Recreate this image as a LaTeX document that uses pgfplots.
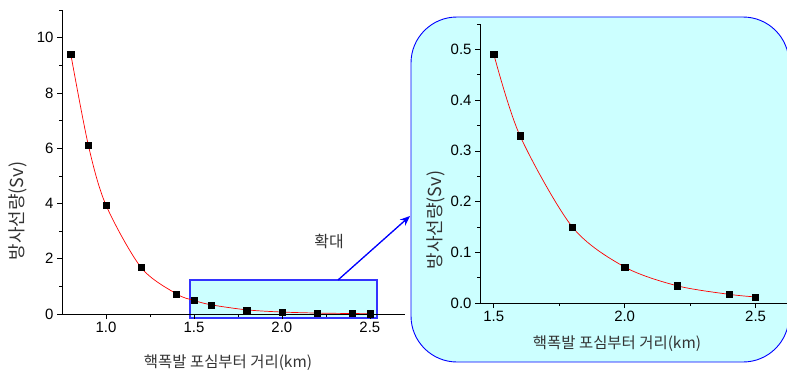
\documentclass[border=0pt]{standalone}
\usepackage{pgfplots}
\pgfplotsset{compat=1.18}
\usepackage{fontspec}
\setmainfont{Liberation Sans}
\newfontfamily\kr{Noto Sans CJK KR}
\usetikzlibrary{arrows.meta}
\definecolor{zoomfill}{HTML}{CCFFFF}
\definecolor{zoomline}{HTML}{3333FF}
\definecolor{labgray}{HTML}{333333}
\pgfplotstableread{
x y
0.8 9.40
0.9 6.10
1.0 3.94
1.2 1.68
1.4 0.73
1.5 0.491
1.6 0.330
1.8 0.150
2.0 0.071
2.2 0.034
2.4 0.017
2.5 0.012
}\fulldata
\pgfplotstableread{
x y
1.5 0.491
1.6 0.330
1.8 0.150
2.0 0.071
2.2 0.034
2.4 0.017
2.5 0.012
}\zoomdata
\begin{document}
\begin{tikzpicture}[x=1bp,y=1bp]
\useasboundingbox (0,0) rectangle (787,373);
\clip (0,0) rectangle (787,373);
\pgfplotsset{
  common/.style={
    scale only axis, clip=false, axis on top,
    axis lines*=left, tick align=outside,
    major tick length=5bp, minor tick length=3bp,
    axis line style={line width=0.6bp},
    tick style={line width=0.6bp, black},
    ticklabel style={font=\fontsize{15}{18}\selectfont},
    /pgf/number format/assume math mode=true,
  }
}
% zoom panel background
\draw[blue, fill=zoomfill, line width=0.9bp, rounded corners=46bp] (411,11) rectangle (789,356);
% left axis
\begin{axis}[common,
  at={(62bp,59bp)}, anchor=south west,
  width=343bp, height=304bp,
  xmin=0.75, xmax=2.7, ymin=0, ymax=11,
  xtick={1,1.5,2,2.5}, minor xtick={1.25,1.75,2.25},
  ytick={0,2,4,6,8,10}, minor ytick={1,3,5,7,9,11},
  x tick label style={/pgf/number format/.cd, fixed, fixed zerofill, precision=1},
]
\draw[zoomline, fill=zoomfill, line width=1.3bp] (axis cs:1.477,-0.14) rectangle (axis cs:2.54,1.23);
\addplot[red, line width=0.7bp, smooth, tension=0.5, no marks] table[x=x,y=y] {\fulldata};
\addplot[only marks, mark=square*, mark size=3.1bp, black] table[x=x,y=y] {\fulldata};
\end{axis}
% right axis
\begin{axis}[common,
  at={(480bp,70bp)}, anchor=south west,
  width=307bp, height=279bp,
  xmin=1.4476, xmax=2.62, ymin=0, ymax=0.55,
  xtick={1.5,2,2.5}, minor xtick={1.75,2.25},
  ytick={0,0.1,0.2,0.3,0.4,0.5}, minor ytick={0.05,0.15,0.25,0.35,0.45,0.55},
  x tick label style={/pgf/number format/.cd, fixed, fixed zerofill, precision=1},
  y tick label style={/pgf/number format/.cd, fixed, fixed zerofill, precision=1},
]
\addplot[red, line width=0.7bp, smooth, tension=0.5, no marks] table[x=x,y=y] {\zoomdata};
\addplot[only marks, mark=square*, mark size=3.1bp, black] table[x=x,y=y] {\zoomdata};
\end{axis}
% arrow and labels
\draw[blue, line width=1.3bp, -{Stealth[length=10bp,width=8bp]}] (338,93) -- (410,157);
\node[font=\kr\fontsize{16}{18}\selectfont, labgray] at (329,132) {확대};
\node[font=\kr\fontsize{15.5}{18}\selectfont, labgray] at (228,10) {핵폭발 포심부터 거리(km)};
\node[font=\kr\fontsize{15.5}{18}\selectfont, labgray] at (617,29) {핵폭발 포심부터 거리(km)};
\node[font=\kr\fontsize{18}{20}\selectfont, labgray, rotate=90] at (18,162) {방사선량(Sv)};
\node[font=\kr\fontsize{18}{20}\selectfont, labgray, rotate=90] at (436,153) {방사선량(Sv)};
\end{tikzpicture}
\end{document}
